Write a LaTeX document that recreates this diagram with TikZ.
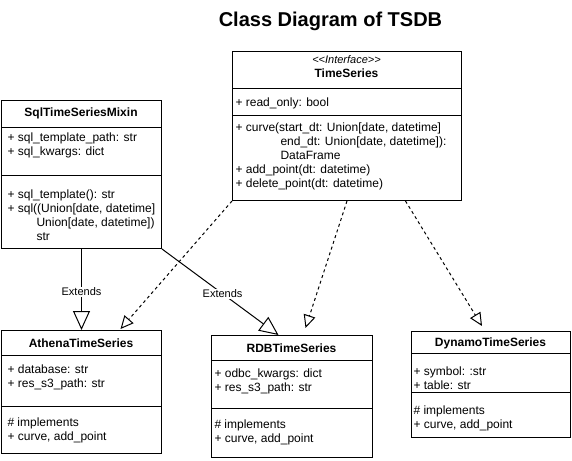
\documentclass[tikz,border=0pt]{standalone}
\usepackage{fontspec}
\setmainfont{Liberation Sans}
\usetikzlibrary{arrows.meta,calc}

\tikzset{
  clase/.style={draw, inner sep=0pt, anchor=north west},
  cabecera/.style={font=\fontsize{12}{14}\selectfont\bfseries, inner sep=0pt},
  miembro/.style={font=\fontsize{12}{14}\selectfont, align=left, anchor=north west,
    inner sep=0pt, yshift=5.8pt, execute at begin node=\strut},
  extiende/.style={-{Triangle[open,length=19pt,width=17pt]}},
  implementa/.style={-{Triangle[open,length=13pt,width=12pt]}, dash pattern=on 3pt off 3pt},
  etiqueta/.style={fill=white, inner sep=1pt, font=\fontsize{11}{13}\selectfont}
}

\begin{document}
\begin{tikzpicture}[x=1pt,y=-1pt,line width=1pt]
  \useasboundingbox (0,0) rectangle (572,460);

  % Titulo
  \node[font=\fontsize{20}{24}\selectfont\bfseries] (titulo) at (330.5,21) {Class Diagram of TSDB};

  % Interfaz
  \node[clase, minimum width=229pt, minimum height=149pt] (ts) at (232,51) {};
  \draw (232,88) -- (461,88);
  \draw (232,115) -- (461,115);
  \node[cabecera, align=center] (ts-nombre) at (346.5,67)
    {{\fontsize{11}{14}\selectfont\mdseries\itshape\textless\kern0pt\textless Interface\textgreater\kern0pt\textgreater}\\ TimeSeries};
  \node[miembro] (ts-attr) at (235,102) {+ read\_only: bool};
  \node[miembro] (ts-met) at (235,128.3) {+ curve(start\_dt: Union[date, datetime]\\
    \hspace*{45pt}end\_dt: Union[date, datetime]):\\
    \hspace*{45pt}DataFrame\\
    + add\_point(dt: datetime)\\
    + delete\_point(dt: datetime)};

  % Mixin
  \node[clase, minimum width=160pt, minimum height=148pt] (sql) at (1,100) {};
  \draw (1,127) -- (161,127);
  \draw (1,175) -- (161,175);
  \node[cabecera] (sql-nombre) at (81,113.5) {SqlTimeSeriesMixin};
  \node[miembro] (sql-attr) at (7,138.3) {+ sql\_template\_path: str\\ + sql\_kwargs: dict};
  \node[miembro] (sql-met) at (7,195) {+ sql\_template(): str\\
    + sql((Union[date, datetime]\\
    \hspace*{29pt}Union[date, datetime])\\
    \hspace*{29pt}str};

  % Clases concretas
  \node[clase, minimum width=160pt, minimum height=123pt] (athena) at (1,330) {};
  \draw (1,355) -- (161,355);
  \draw (1,406) -- (161,406);
  \node[cabecera] (athena-nombre) at (81,343) {AthenaTimeSeries};
  \node[miembro] (athena-attr) at (7,370) {+ database: str\\ + res\_s3\_path: str};
  \node[miembro] (athena-met) at (7,423.3) {\# implements\\ + curve, add\_point};

  \node[clase, minimum width=161pt, minimum height=122pt] (rdb) at (211,335) {};
  \draw (211,360) -- (372,360);
  \draw (211,408) -- (372,408);
  \node[cabecera] (rdb-nombre) at (291.5,348) {RDBTimeSeries};
  \node[miembro] (rdb-attr) at (214,374) {+ odbc\_kwargs: dict\\ + res\_s3\_path: str};
  \node[miembro] (rdb-met) at (214,425) {\# implements\\ + curve, add\_point};

  \node[clase, minimum width=159pt, minimum height=106pt] (dynamo) at (411,331) {};
  \draw (411,353) -- (570,353);
  \draw (411,392) -- (570,392);
  \node[cabecera] (dynamo-nombre) at (490.5,343) {DynamoTimeSeries};
  \node[miembro] (dynamo-attr) at (413,372) {+ symbol: :str\\ + table: str};
  \node[miembro] (dynamo-met) at (413,411) {\# implements\\ + curve, add\_point};

  % Herencia
  \draw[extiende] (sql.south) -- node[etiqueta, pos=0.53] {Extends} (athena.north);
  \draw[extiende] (sql.south east) -- node[etiqueta, pos=0.52] {Extends} ($(rdb.north)+(-13.5,0)$);

  % Implementacion
  \draw[implementa] (ts.south west) -- ($(athena.north)+(39,-1)$);
  \draw[implementa] (ts.south) -- ($(rdb.north)+(13.5,-7)$);
  \draw[implementa] ($(ts.south)+(58.5,0)$) -- ($(dynamo.north)+(-9,-5)$);
\end{tikzpicture}
\end{document}
